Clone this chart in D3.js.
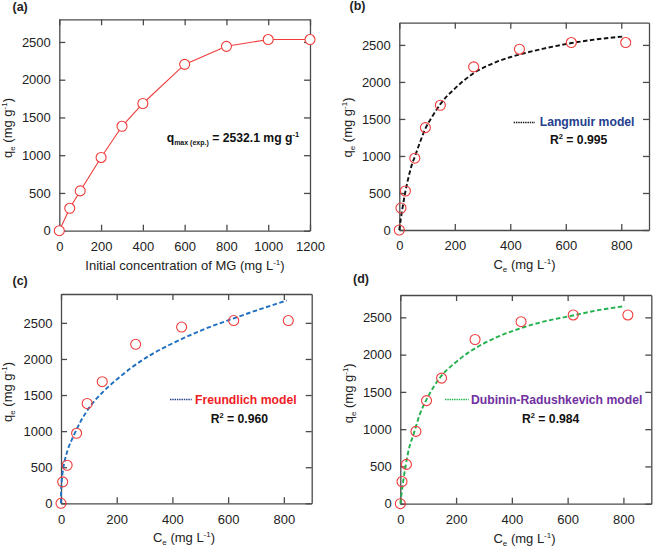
<!DOCTYPE html>
<html><head><meta charset="utf-8">
<script src="https://cdn.jsdelivr.net/npm/d3@7"></script>
<style>
body{margin:0;background:#fff;}
svg{font-family:"Liberation Sans",Arial,sans-serif;}
</style></head><body>
<svg id="chart" width="654" height="549"></svg>
<script>
// ---------- data ----------
const initConc = [0, 50, 100, 200, 300, 400, 600, 800, 1000, 1200];
const qeExp = [0, 297, 527, 970, 1383, 1685, 2203, 2442, 2532, 2532];
const ceExp = [0, 6, 22, 56, 94, 148, 268, 433, 620, 816];

const langC = [0, 5, 10, 20, 30, 45, 57, 75, 94, 120, 148, 200, 265, 350, 433, 520, 621, 710, 810];
const langQ = [0, 140, 260, 480, 660, 880, 1000, 1190, 1370, 1540, 1700, 1910, 2110, 2270, 2370, 2450, 2525, 2575, 2615];

const frC = [0, 0.5, 2.5, 5, 14, 25, 44, 70, 104, 150, 200, 250, 319, 400, 500, 618, 700, 810];
const frQ = [0, 180, 300, 400, 600, 750, 925, 1130, 1340, 1540, 1715, 1870, 2050, 2215, 2390, 2560, 2670, 2810];

const drC = [0, 5, 10, 20, 30, 50, 70, 93, 120, 142, 200, 249, 300, 350, 428, 500, 619, 700, 805];
const drQ = [0, 150, 290, 530, 720, 960, 1200, 1390, 1570, 1690, 1900, 2040, 2150, 2240, 2350, 2430, 2525, 2590, 2650];

const xTicksA = [0, 200, 400, 600, 800, 1000, 1200];
const xTicksCe = [0, 200, 400, 600, 800];
const yTicks = [0, 500, 1000, 1500, 2000, 2500];

const modelNames = ["Langmuir model", "Freundlich model", "Dubinin-Radushkevich model"];
const modelR2 = ["0.995", "0.960", "0.984"];
const panelLabels = ["(a)", "(b)", "(c)", "(d)"];

// ---------- drawing ----------
const svg = d3.select("#chart");
const AX = "#4a4a4a";
const RED = "#f03c3c";
const fmt = d3.format("d");

function makePanel(p) {
  const g = svg.append("g");
  const x = d3.scaleLinear().domain([0, p.xmax]).range([p.l, p.r]);
  const y = d3.scaleLinear().domain([0, p.ymax]).range([p.b, p.t]);
  const fs = "13px";
  const bottom = g.append("g").attr("transform", `translate(0,${p.b})`)
    .call(d3.axisBottom(x).tickValues(p.xt).tickFormat(fmt).tickSize(-6).tickSizeOuter(0).tickPadding(11));
  const top = g.append("g").attr("transform", `translate(0,${p.t})`)
    .call(d3.axisTop(x).tickValues(p.xt).tickSize(-6).tickSizeOuter(0).tickFormat(""));
  const left = g.append("g").attr("transform", `translate(${p.l},0)`)
    .call(d3.axisLeft(y).tickValues(yTicks).tickFormat(fmt).tickSize(-6).tickSizeOuter(0).tickPadding(8.5));
  const right = g.append("g").attr("transform", `translate(${p.r},0)`)
    .call(d3.axisRight(y).tickValues(yTicks).tickSize(-6).tickSizeOuter(0).tickFormat(""));
  [bottom, top, left, right].forEach(a => {
    a.selectAll("path,line").attr("stroke", AX).attr("stroke-width", 1.3);
    a.selectAll("text").attr("fill", "#222").style("font-size", fs)
      .style("font-family", '"Liberation Sans",Arial,sans-serif');
  });
  // y title
  const yt = g.append("text").attr("transform", `translate(${p.ytx},${p.yty}) rotate(-90)`)
    .attr("text-anchor", "middle").attr("fill", "#222").style("font-size", fs);
  yt.append("tspan").text("q");
  yt.append("tspan").text("e").style("font-size", "8px").attr("dy", 3);
  yt.append("tspan").text(" (mg g").attr("dy", -3);
  yt.append("tspan").text("-1").style("font-size", "8px").attr("dy", -5);
  yt.append("tspan").text(")").attr("dy", 5);
  // x title
  const xt = g.append("text").attr("x", p.xtx).attr("y", p.xty)
    .attr("text-anchor", "middle").attr("fill", "#222").style("font-size", fs);
  if (p.ce) {
    xt.append("tspan").text("C");
    xt.append("tspan").text("e").style("font-size", "8px").attr("dy", 3);
    xt.append("tspan").text(" (mg L").attr("dy", -3);
  } else {
    xt.append("tspan").text("Initial concentration of MG (mg L");
  }
  xt.append("tspan").text("-1").style("font-size", "8px").attr("dy", -5);
  xt.append("tspan").text(")").attr("dy", 5);
  // panel label
  g.append("text").attr("x", p.lx).attr("y", p.ly).text(p.label)
    .attr("fill", "#222").style("font-size", "12.5px").style("font-weight", "bold");
  return {g, x, y};
}

// Panel (a)
{
  const P = makePanel({l: 59.3, r: 310, t: 19.3, b: 230.7, xmax: 1200, ymax: 2800, xt: xTicksA,
    ytx: 11.5, yty: 128, xtx: 185, xty: 270, ce: false, label: panelLabels[0], lx: 12.5, ly: 10.5});
  const data = initConc.map((c, i) => [c, qeExp[i]]);
  P.g.append("path").datum(data)
    .attr("d", d3.line().x(d => P.x(d[0])).y(d => P.y(d[1])))
    .attr("fill", "none").attr("stroke", RED).attr("stroke-width", 1.1);
  P.g.selectAll("circle").data(data).join("circle")
    .attr("cx", d => P.x(d[0])).attr("cy", d => P.y(d[1])).attr("r", 5)
    .attr("fill", "#fff").attr("stroke", RED).attr("stroke-width", 1.1);
  const t = P.g.append("text").attr("x", 166.7).attr("y", 141.7).attr("fill", "#111")
    .style("font-size", "12.2px").style("font-weight", "bold");
  t.append("tspan").text("q");
  t.append("tspan").text("max (exp.)").style("font-size", "7px").attr("dy", 3);
  t.append("tspan").text(" = 2532.1 mg g").attr("dy", -3);
  t.append("tspan").text("-1").style("font-size", "7.5px").attr("dy", -5);
}

function fitPanel(cfg, C, Q, color, legColor, textColor, idx, leg) {
  const P = makePanel(cfg);
  const data = C.map((c, i) => [c, Q[i]]);
  P.g.append("path").datum(data)
    .attr("d", d3.line().curve(d3.curveMonotoneX).x(d => P.x(d[0])).y(d => P.y(d[1])))
    .attr("fill", "none").attr("stroke", color).attr("stroke-width", 1.9)
    .attr("stroke-dasharray", "4.5,2.5");
  const pts = ceExp.map((c, i) => [c, qeExp[i]]);
  P.g.selectAll("circle").data(pts).join("circle")
    .attr("cx", d => P.x(d[0])).attr("cy", d => P.y(d[1])).attr("r", 5)
    .attr("fill", "none").attr("stroke", RED).attr("stroke-width", 1.1);
  // legend
  P.g.append("line").attr("x1", leg.x1).attr("x2", leg.x2).attr("y1", leg.ly).attr("y2", leg.ly)
    .attr("stroke", legColor).attr("stroke-width", 1.6).attr("stroke-dasharray", "1.4,0.9");
  P.g.append("text").attr("x", leg.tx).attr("y", leg.ty).text(modelNames[idx])
    .attr("fill", textColor).style("font-size", "12.2px").style("font-weight", "bold");
  const r = P.g.append("text").attr("x", leg.rx).attr("y", leg.ry).attr("fill", "#111")
    .style("font-size", "12.2px").style("font-weight", "bold");
  r.append("tspan").text("R");
  r.append("tspan").text("2").style("font-size", "7.5px").attr("dy", -5);
  r.append("tspan").text(" = " + modelR2[idx]).attr("dy", 5);
}

fitPanel({l: 399.3, r: 649, t: 22.7, b: 230, xmax: 900, ymax: 2800, xt: xTicksCe,
    ytx: 351.5, yty: 127.5, xtx: 524.5, xty: 268.5, ce: true, label: panelLabels[1], lx: 349.5, ly: 10},
  langC, langQ, "#111", "#111", "#24408e", 0,
  {x1: 513.7, x2: 535, ly: 122.5, tx: 539.7, ty: 126, rx: 550, ry: 144.3});

fitPanel({l: 61, r: 311.7, t: 294, b: 503.3, xmax: 900, ymax: 2900, xt: xTicksCe,
    ytx: 11.7, yty: 392, xtx: 184, xty: 542, ce: true, label: panelLabels[2], lx: 12.5, ly: 285},
  frC, frQ, "#1f6fc0", "#1f3c88", "#ee1c25", 1,
  {x1: 170, x2: 191.7, ly: 399.5, tx: 195, ty: 403.7, rx: 210.7, ry: 422.7});

fitPanel({l: 400.3, r: 651.3, t: 295, b: 503.7, xmax: 900, ymax: 2800, xt: xTicksCe,
    ytx: 352.5, yty: 393.3, xtx: 524.5, xty: 542.5, ce: true, label: panelLabels[3], lx: 353, ly: 283},
  drC, drQ, "#22b14c", "#22b14c", "#7030a0", 2,
  {x1: 445, x2: 468.7, ly: 399.5, tx: 471, ty: 403.7, rx: 522, ry: 422.7});
</script>
</body></html>
